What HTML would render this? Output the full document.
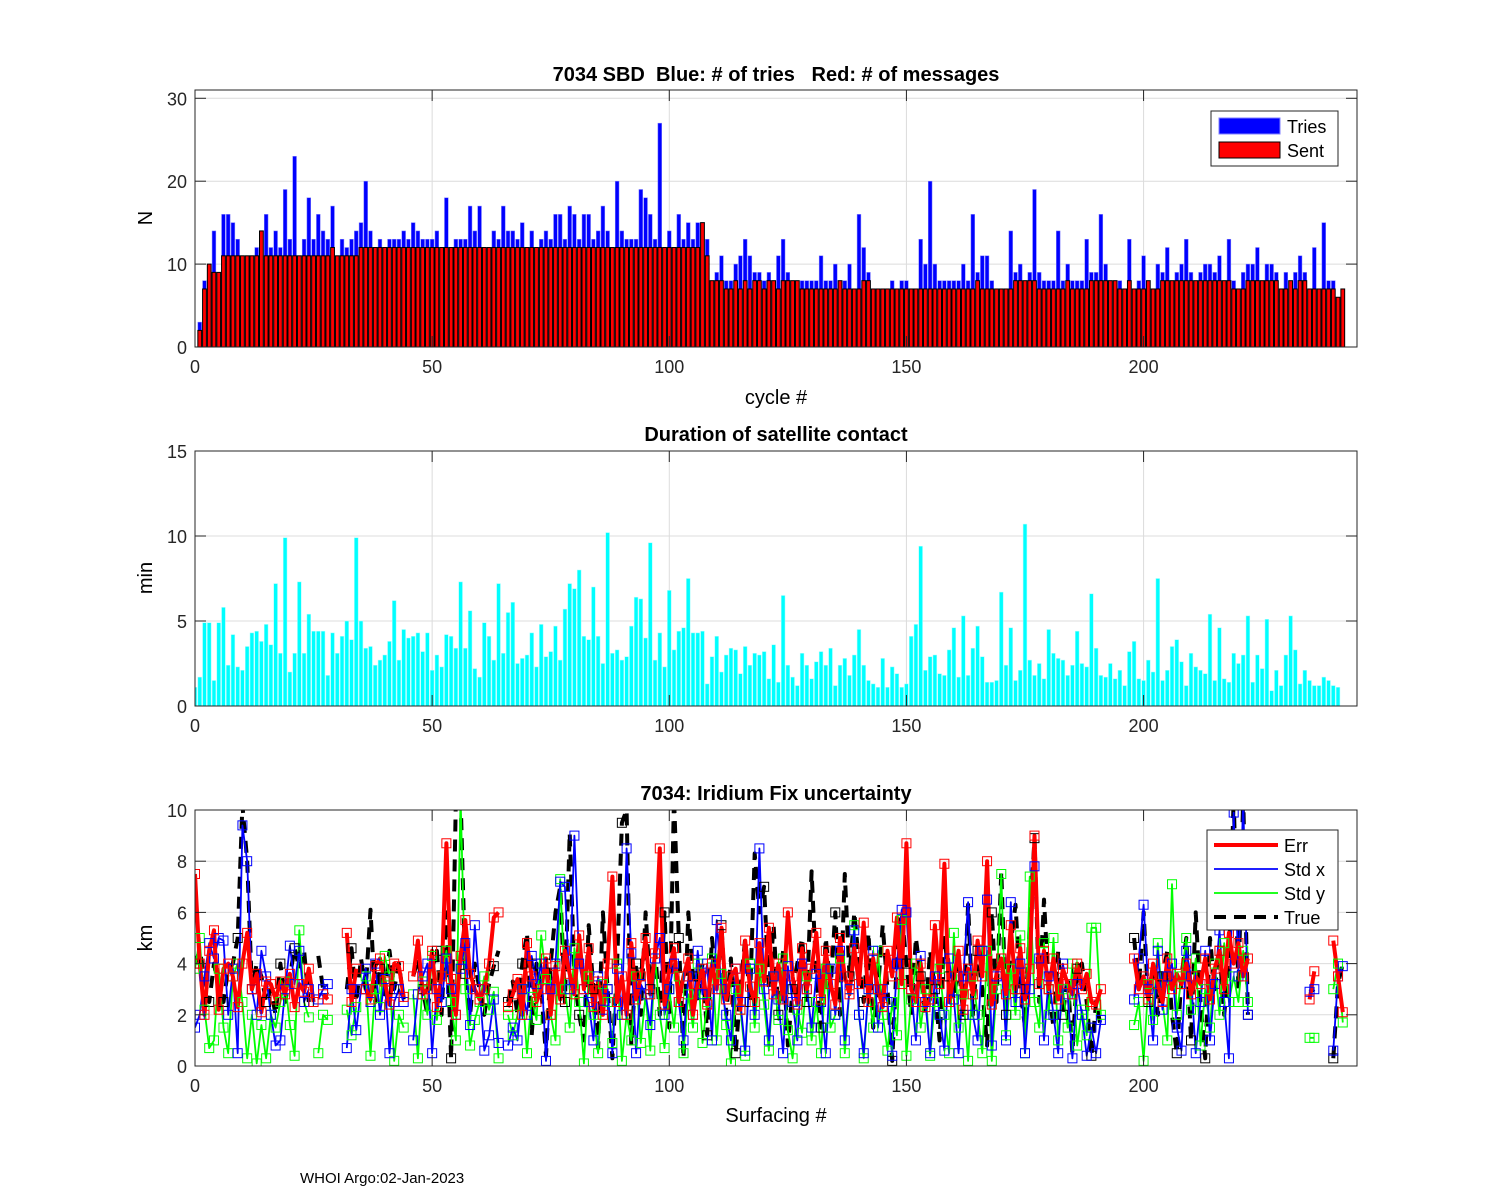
<!DOCTYPE html>
<html><head><meta charset="utf-8"><title>7034 SBD</title>
<style>
html,body{margin:0;padding:0;background:#fff;}
svg{display:block;font-family:"Liberation Sans",Arial,sans-serif;}
text{white-space:pre;}
</style></head>
<body>
<svg id="fig" width="1500" height="1200" viewBox="0 0 1500 1200" xmlns="http://www.w3.org/2000/svg" xml:space="preserve">
<rect x="0" y="0" width="1500" height="1200" fill="#fff"/>
<g id="p1"></g>
<g id="p2"></g>
<g id="p3"></g>
<text x="776" y="81" text-anchor="middle" font-size="20" font-weight="bold">7034 SBD  Blue: # of tries   Red: # of messages</text>
<text x="776" y="441" text-anchor="middle" font-size="20" font-weight="bold">Duration of satellite contact</text>
<text x="776" y="800" text-anchor="middle" font-size="20" font-weight="bold">7034: Iridium Fix uncertainty</text>
<text x="776" y="404" text-anchor="middle" font-size="20">cycle #</text>
<text x="776" y="1122" text-anchor="middle" font-size="20">Surfacing #</text>
<text transform="translate(152,218) rotate(-90)" text-anchor="middle" font-size="20">N</text>
<text transform="translate(152,578) rotate(-90)" text-anchor="middle" font-size="20">min</text>
<text transform="translate(152,938) rotate(-90)" text-anchor="middle" font-size="20">km</text>
<text x="300" y="1183" font-size="15">WHOI Argo:02-Jan-2023</text>
</svg>
<script>
// ---------- Panel 1 data (cycles 1..242) ----------
const tries = [3,8,10,14,9,16,16,15,13,11,
11,11,12,14,16,12,14,12,19,13,
23,11,13,18,13,16,14,13,17,11,
13,12,13,14,15,20,14,12,13,12,
13,13,13,14,13,15,14,13,13,13,
14,12,18,12,13,13,13,17,14,17,
12,12,14,13,17,14,14,13,15,12,
14,12,13,14,13,16,16,13,17,16,
13,16,16,13,14,17,14,12,20,14,
13,13,13,19,18,16,13,27,12,14,
12,16,13,15,13,15,15,13,8,9,
11,8,8,10,11,13,11,9,9,8,
9,8,11,13,9,8,8,8,8,8,
8,11,8,8,10,7,8,10,7,16,
12,9,7,7,7,7,8,7,8,8,
7,7,13,10,20,10,8,8,8,8,
8,10,8,16,9,11,11,8,7,7,
7,14,9,10,8,9,19,9,8,8,
8,14,8,10,8,8,8,13,9,9,
16,10,8,8,8,7,13,7,8,11,
8,7,10,9,12,8,9,10,13,9,
7,9,10,10,9,11,8,13,8,7,
9,10,10,12,8,10,10,9,7,9,
7,9,11,9,7,12,7,15,8,8,6,7];
const sent = [2,7,10,9,9,11,11,11,11,11,
11,11,11,14,11,11,11,11,11,11,
11,11,11,11,11,11,11,11,12,11,
11,11,11,11,12,12,12,12,12,12,
12,12,12,12,12,12,12,12,12,12,
12,12,12,12,12,12,12,12,12,12,
12,12,12,12,12,12,12,12,12,12,
12,12,12,12,12,12,12,12,12,12,
12,12,12,12,12,12,12,12,12,12,
12,12,12,12,12,12,12,12,12,12,
12,12,12,12,12,12,15,11,8,8,
8,7,7,8,7,8,7,8,8,7,
8,8,7,8,8,8,8,7,7,7,
7,7,7,7,7,8,7,7,7,7,
8,8,7,7,7,7,7,7,7,7,
7,7,7,7,7,7,7,7,7,7,
7,7,7,7,8,7,7,7,7,7,
7,7,8,8,8,8,8,7,7,7,
7,7,7,8,7,7,7,7,8,8,
8,8,8,8,7,7,8,7,7,7,
8,7,7,8,8,8,8,8,8,8,
8,8,8,8,8,8,8,8,7,7,
7,8,8,8,8,8,8,8,7,7,
8,7,8,8,7,7,7,7,7,7,6,7];
const p1YTicks = [0,10,20,30];
const xTicks = [0,50,100,150,200];

// ---------- Panel 2 data (cycles 0..241) ----------
const duration = [1.1,1.7,4.9,4.9,1.5,4.9,5.8,2.4,4.2,2.3,
2.1,3.5,4.3,4.4,3.8,4.8,3.6,7.2,3.1,9.9,
2.0,3.1,7.3,3.1,5.4,4.4,4.4,4.4,1.8,4.3,
3.1,4.1,5.0,3.9,9.9,5.0,3.4,3.5,2.4,2.7,
3.0,3.8,6.2,2.7,4.5,4.0,4.1,4.3,3.2,4.3,
2.1,3.0,2.3,4.2,4.1,3.4,7.3,3.4,5.6,2.2,
1.7,4.9,4.1,2.7,7.2,3.1,5.5,6.1,2.5,2.8,
3.0,4.3,2.3,4.8,2.9,3.2,4.7,2.7,5.7,7.2,
6.9,8.0,4.1,3.9,7.0,4.1,2.5,10.2,3.1,3.3,
2.7,2.9,4.7,6.4,6.3,4.0,9.6,2.7,4.3,2.3,
6.8,3.3,4.4,4.6,7.5,4.3,4.3,4.4,1.3,2.9,
4.1,2.0,3.0,3.4,3.3,1.9,3.5,2.4,3.1,3.0,
3.2,1.6,3.6,1.4,6.5,2.4,1.7,1.2,3.1,2.4,
1.6,2.6,3.2,2.4,3.4,1.2,2.4,2.8,1.8,3.0,
4.5,2.4,1.5,1.3,1.1,2.8,1.1,2.3,1.9,1.1,
1.3,4.1,4.8,9.4,2.1,2.9,3.0,1.9,1.8,3.3,
4.6,1.7,5.3,1.8,3.4,4.7,2.9,1.4,1.4,1.5,
6.7,2.4,4.6,1.5,2.1,10.7,2.7,1.8,2.5,1.6,
4.5,3.1,2.8,2.7,1.8,2.4,4.4,2.5,2.3,6.6,
3.4,1.8,1.7,2.5,1.6,2.1,1.2,3.2,3.8,1.6,
1.5,2.7,2.0,7.5,1.5,2.1,3.5,3.9,2.6,1.2,
3.1,2.3,2.1,1.9,5.4,1.5,4.6,1.6,1.4,3.1,
2.5,3.0,5.3,1.4,3.0,2.2,5.1,0.9,2.1,1.2,
3.0,5.3,3.3,1.3,2.1,1.5,1.2,1.2,1.7,1.5,
1.2,1.1];
const p2YTicks = [0,5,10,15];

// ---------- Panel 3 data (surfacing 0..242) ----------
const N = null;
const errKm = [7.5,4.0,2.0,4.5,5.3,2.2,3.8,4.0,3.5,2.3,
4.0,5.2,3.0,3.6,2.1,3.3,3.2,2.6,3.3,2.8,
3.6,2.3,3.2,2.9,3.8,2.5,N,2.8,2.6,N,
N,N,5.2,2.5,3.8,N,3.0,2.6,3.9,4.2,
3.3,2.4,4.0,3.9,2.7,N,3.5,4.9,2.8,3.0,
4.5,2.3,3.5,8.7,3.4,2.0,4.3,5.7,3.6,3.0,
2.6,3.0,4.0,5.8,6.0,N,2.3,2.8,3.4,2.0,
4.8,3.5,2.5,3.0,4.2,2.0,3.9,2.6,4.5,3.6,
2.8,5.1,3.0,4.6,2.3,3.3,2.0,4.0,7.4,2.5,
3.5,2.0,4.8,2.6,3.5,5.0,2.8,4.4,8.5,2.4,
3.8,4.6,2.5,3.5,4.2,2.0,3.2,3.8,2.4,4.0,
3.0,5.4,2.6,3.5,3.8,2.2,4.9,3.1,2.5,4.8,
3.3,5.4,2.8,4.0,2.6,6.0,3.5,2.4,4.6,3.0,
3.8,5.2,2.6,4.5,3.2,2.4,5.0,3.5,2.8,4.6,
3.2,5.6,2.5,4.2,3.0,2.3,4.5,3.5,5.8,3.2,
8.7,3.0,2.5,4.0,2.3,2.6,5.5,3.2,7.9,2.5,
3.5,4.5,2.2,3.8,2.8,4.9,3.5,8.0,2.4,3.6,
4.2,2.8,5.5,3.0,4.6,2.6,3.8,9.0,3.2,4.5,
3.0,4.2,2.6,3.8,3.2,2.8,4.0,3.0,3.6,2.5,
2.4,3.0,N,N,N,N,N,N,4.2,3.0,
3.5,2.6,4.0,3.2,2.5,4.2,3.0,3.6,3.2,4.0,
2.8,3.5,3.2,4.2,2.6,3.8,4.5,3.0,5.2,4.0,
4.8,3.5,4.2,N,N,N,N,N,N,N,
N,N,N,N,N,2.6,3.7,N,N,N,
4.9,3.5,2.1];
const stdX = [1.5,2.0,3.5,4.8,4.2,5.0,4.9,2.0,3.8,0.5,
9.4,8.0,3.0,2.0,4.5,3.5,2.0,0.8,1.0,3.0,
4.7,3.2,4.5,2.5,3.0,N,2.6,3.0,3.2,N,
N,N,0.7,3.0,1.4,3.0,3.8,2.5,4.0,2.0,
3.4,0.5,2.5,3.0,2.5,N,1.0,2.8,3.5,4.0,
0.5,3.0,2.5,4.2,3.0,2.0,3.8,4.8,1.6,5.5,
3.0,0.6,1.2,2.6,0.9,N,0.8,1.5,1.0,3.0,
2.0,4.3,3.2,4.0,0.2,3.0,4.0,7.2,7.0,3.0,
9.0,4.0,3.0,2.5,1.0,3.5,2.2,3.0,0.5,3.8,
2.0,8.5,4.4,0.5,3.2,2.8,1.6,4.2,5.0,2.0,
3.0,4.0,2.5,1.0,3.5,2.0,4.5,2.8,4.0,1.0,
5.7,3.0,2.0,1.0,3.8,2.5,0.6,3.8,2.0,8.5,
3.0,1.0,3.5,2.6,0.5,3.9,2.5,1.0,4.0,3.0,
1.5,3.6,2.5,0.5,3.8,2.0,4.5,1.0,3.0,5.3,
2.0,0.5,3.0,4.5,1.5,3.0,2.5,0.4,4.0,6.1,
6.0,3.0,1.0,4.3,2.5,0.5,3.5,2.0,0.6,4.2,
2.6,0.5,3.5,6.4,2.0,1.0,4.5,6.5,0.8,3.5,
4.2,1.0,6.4,2.5,4.0,0.5,3.0,7.8,4.2,1.0,
3.5,2.0,0.5,4.0,2.8,0.3,3.2,2.0,0.4,1.5,
0.5,1.8,N,N,N,N,N,N,2.6,4.2,
6.3,3.0,1.0,4.5,2.2,3.5,4.0,1.5,0.6,4.5,
3.5,0.5,2.5,4.5,1.0,3.2,5.3,2.5,0.3,9.9,
3.5,10.5,2.0,N,N,N,N,N,N,N,
N,N,N,N,N,2.9,3.0,N,N,N,
0.6,3.5,3.9];
const stdY = [3.8,5.0,2.2,0.7,1.0,3.8,1.5,0.5,3.5,4.0,
2.5,0.3,2.0,0.1,1.6,0.3,2.0,1.5,2.5,3.3,
1.6,0.4,5.3,2.5,1.9,N,0.5,2.0,1.8,N,
N,N,2.2,1.2,2.3,N,3.5,0.4,3.0,2.3,
4.3,3.5,0.2,2.0,1.5,N,2.8,0.3,3.3,2.0,
4.3,1.8,3.5,4.5,2.5,1.0,10.5,3.0,0.8,1.8,
2.5,3.5,2.2,2.9,0.3,N,2.0,1.2,2.0,3.0,
0.5,2.7,1.8,5.1,3.4,2.0,1.0,7.3,3.0,1.5,
4.6,2.5,0.1,3.5,2.0,0.5,3.2,2.5,0.9,4.0,
0.2,2.0,1.0,3.5,0.9,2.8,0.6,4.2,2.0,0.7,
3.0,1.5,3.5,0.5,2.8,1.5,4.0,0.9,2.5,4.2,
1.0,3.6,1.6,0.1,3.0,2.2,0.4,4.0,1.5,3.8,
2.4,0.6,3.5,1.8,4.2,1.4,0.3,2.2,1.3,3.5,
1.0,2.5,0.5,3.8,1.5,2.0,4.2,0.5,3.0,5.5,
2.0,0.3,3.0,1.5,4.5,2.0,0.6,2.5,1.2,5.7,
0.4,2.6,4.0,1.5,3.0,0.4,2.5,3.8,2.0,0.5,
5.2,1.5,2.8,0.2,3.5,2.0,0.5,4.5,0.2,3.0,
7.5,1.2,3.8,2.0,5.1,0.5,7.4,2.5,1.5,4.8,
2.0,5.0,1.0,3.0,1.5,4.0,0.8,2.2,1.2,5.4,
5.4,2.0,N,N,N,N,N,N,1.6,2.5,
0.2,3.2,1.8,4.8,2.5,1.0,7.1,2.0,3.5,5.0,
2.2,4.2,0.8,3.0,1.5,4.0,2.0,4.8,2.5,3.5,
2.5,4.5,2.5,N,N,N,N,N,N,N,
N,N,N,N,N,1.1,1.1,N,N,N,
3.0,4.0,1.7];
const trueKm = [4.0,4.5,3.5,2.5,4.0,3.0,2.5,3.8,4.0,5.0,
10.2,8.0,3.0,4.0,3.5,2.5,3.0,2.0,4.0,2.5,
3.5,4.6,3.8,4.5,2.5,N,4.3,3.0,2.8,N,
N,N,3.0,4.6,2.5,4.2,3.0,6.1,2.5,3.8,
2.8,4.5,3.0,4.0,2.6,N,3.5,4.2,3.0,2.0,
3.8,4.5,2.0,6.0,0.3,10.5,10.5,3.6,2.0,4.0,
3.0,2.0,3.2,3.9,4.5,N,2.5,3.3,2.0,4.0,
5.2,1.2,4.0,3.0,0.4,4.0,6.0,7.0,2.5,9.1,
3.5,2.0,1.0,5.5,3.0,0.7,6.0,3.0,0.3,4.0,
9.5,10.0,0.8,4.0,2.0,6.0,3.0,4.5,2.0,6.0,
1.5,10.5,5.0,0.3,6.0,3.5,2.5,4.0,1.2,5.0,
3.0,5.5,2.0,4.2,0.5,3.0,5.0,2.5,8.3,6.0,
7.0,3.0,5.5,2.0,4.5,0.8,3.0,4.0,5.0,2.5,
7.6,3.5,1.5,5.0,3.0,6.0,2.0,7.5,3.5,6.0,
4.0,2.5,5.2,1.5,3.0,5.5,3.0,0.2,4.2,6.0,
4.0,2.0,5.0,3.5,2.0,4.5,3.0,1.0,5.0,3.5,
2.6,4.0,2.0,6.3,2.0,4.5,3.0,0.8,6.0,2.5,
7.6,2.0,4.8,6.3,3.0,1.5,5.5,8.9,2.5,6.5,
3.0,1.5,4.5,2.0,3.5,0.5,3.8,4.0,2.5,0.4,
2.5,1.5,N,N,N,N,N,N,5.0,3.0,
6.0,2.5,4.0,2.0,3.5,4.5,2.0,0.5,3.5,5.0,
1.0,6.0,2.5,0.3,5.0,3.0,4.5,2.0,4.0,10.5,
3.0,10.5,2.0,N,N,N,N,N,N,N,
N,N,N,N,N,2.9,3.0,N,N,N,
0.3,3.2,4.0];
const p3YTicks = [0,2,4,6,8,10];

// ---------- helpers ----------
const NS = "http://www.w3.org/2000/svg";
function mk(tag, attrs, parent){ const e=document.createElementNS(NS,tag); for(const k in attrs) e.setAttribute(k,attrs[k]); parent.appendChild(e); return e; }
const L=195, R=1357, XMAX=245;
function xs(v){ return L + (R-L)*v/XMAX; }
function makeY(top,bot,ymax){ return v => bot - (bot-top)*v/ymax; }

function drawAxes(g, top, bot, ymax, yTicks, ys, name){
  for(const t of xTicks){
    const l=mk('line',{x1:xs(t),x2:xs(t),y1:top,y2:bot,stroke:'#dcdcdc','stroke-width':1},g);
    
    
  }
  for(const t of yTicks){
    const l=mk('line',{x1:L,x2:R,y1:ys(t),y2:ys(t),stroke:'#dcdcdc','stroke-width':1},g);
    
    
  }
}
function drawFrame(g, top, bot, ymax, yTicks, ys, name){
  const b=mk('rect',{x:L,y:top,width:R-L,height:bot-top,fill:'none',stroke:'#262626','stroke-width':1},g);
  
  
  for(const t of xTicks){
    const x=xs(t);
    mk('line',{x1:x,x2:x,y1:bot,y2:bot-11,stroke:'#262626'},g);
    mk('line',{x1:x,x2:x,y1:top,y2:top+11,stroke:'#262626'},g);
    const tx=mk('text',{x:x,y:bot+26,'text-anchor':'middle','font-size':18,fill:'#262626'},g);
    tx.textContent=t;
    
    
  }
  for(const t of yTicks){
    const y=ys(t);
    mk('line',{x1:L,x2:L+11,y1:y,y2:y,stroke:'#262626'},g);
    mk('line',{x1:R,x2:R-11,y1:y,y2:y,stroke:'#262626'},g);
    const tx=mk('text',{x:L-8,y:y+7,'text-anchor':'end','font-size':18,fill:'#262626'},g);
    tx.textContent=t;
    
    
  }
}

// ---------- Panel 1 ----------
(function(){
  const g=document.getElementById('p1');
  const top=90, bot=347, ymax=31, ys=makeY(top,bot,ymax);
  drawAxes(g,top,bot,ymax,p1YTicks,ys,'tries');
  const w=(R-L)/XMAX*0.8;
  tries.forEach((v,i)=>{
    const c=i+1;
    const r=mk('rect',{x:xs(c)-w/2,y:ys(v),width:w,height:bot-ys(v),fill:'#0000ff',stroke:'#8080ff','stroke-width':0.5},g);
    
    
  });
  sent.forEach((v,i)=>{
    const c=i+1;
    const r=mk('rect',{x:xs(c)-w/2,y:ys(v),width:w,height:bot-ys(v),fill:'#ff0000',stroke:'#000','stroke-width':1},g);
    
    
  });
  drawFrame(g,top,bot,ymax,p1YTicks,ys,'tries');
  const lg=mk('g',{},g);
  
  
  mk('rect',{x:1211,y:111,width:127,height:55,fill:'#fff',stroke:'#262626'},lg);
  const e1=mk('rect',{x:1219,y:118,width:61,height:16,fill:'#0000ff',stroke:'#8080ff'},lg);
  
  
  const e2=mk('rect',{x:1219,y:142,width:61,height:16,fill:'#ff0000',stroke:'#000'},lg);
  
  
  const t1=mk('text',{x:1287,y:133,'font-size':18},lg); t1.textContent='Tries';
  
  
  const t2=mk('text',{x:1287,y:157,'font-size':18},lg); t2.textContent='Sent';
  
  
})();

// ---------- Panel 2 ----------
(function(){
  const g=document.getElementById('p2');
  const top=451, bot=706, ymax=15, ys=makeY(top,bot,ymax);
  drawAxes(g,top,bot,ymax,p2YTicks,ys,'duration');
  const w=(R-L)/XMAX*0.8;
  duration.forEach((v,i)=>{
    const r=mk('rect',{x:Math.max(L,xs(i)-w/2),y:ys(v),width:(i===0?w/2:w),height:bot-ys(v),fill:'#00ffff',stroke:'#aaffff','stroke-width':0.5},g);
    
    
  });
  drawFrame(g,top,bot,ymax,p2YTicks,ys,'duration');
})();

// ---------- Panel 3 ----------
(function(){
  const g=document.getElementById('p3');
  const top=810, bot=1066, ymax=10, ys=makeY(top,bot,ymax);
  drawAxes(g,top,bot,ymax,p3YTicks,ys,'fix');
  const defs=mk('defs',{},g);
  const cp=mk('clipPath',{id:'clip3'},defs);
  mk('rect',{x:L,y:top,width:R-L,height:bot-top},cp);
  const plot=mk('g',{'clip-path':'url(#clip3)'},g);
  function series(arr,color,width,dash,name){
    let d='', pen=false;
    arr.forEach((v,i)=>{
      if(v===null){pen=false;return;}
      d+=(pen?'L':'M')+xs(i).toFixed(1)+' '+ys(v).toFixed(1)+' ';
      pen=true;
    });
    const attrs={d:d,fill:'none',stroke:color,'stroke-width':width,'stroke-linejoin':'round'};
    if(dash) attrs['stroke-dasharray']=dash;
    const p=mk('path',attrs,plot);
    
    
  }
  function markers(arr,color,name,step){
    arr.forEach((v,i)=>{
      if(v===null) return;
      if(i%step!==0) return;
      const m=mk('rect',{x:xs(i)-4.5,y:ys(v)-4.5,width:9,height:9,fill:'none',stroke:color,'stroke-width':1},plot);
      
      
    });
  }
  series(trueKm,'#000',4,'12,8','true');
  series(stdY,'#00ff00',1.8,null,'std-y');
  series(stdX,'#0000ff',1.8,null,'std-x');
  series(errKm,'#ff0000',4,null,'err');
  markers(trueKm,'#000','true',3);
  markers(stdY,'#00ff00','std-y',1);
  markers(stdX,'#0000ff','std-x',1);
  markers(errKm,'#ff0000','err',1);
  drawFrame(g,top,bot,ymax,p3YTicks,ys,'fix');
  const lg=mk('g',{},g);
  
  
  mk('rect',{x:1207,y:830,width:131,height:100,fill:'#fff',stroke:'#262626'},lg);
  const ents=[['Err','#ff0000',4,null],['Std x','#0000ff',1.8,null],['Std y','#00ff00',1.8,null],['True','#000',4,'12,8']];
  ents.forEach((e,k)=>{
    const y=845+k*24;
    const ln=mk('line',{x1:1214,x2:1278,y1:y,y2:y,stroke:e[1],'stroke-width':e[2]},lg);
    if(e[3]) ln.setAttribute('stroke-dasharray',e[3]);
    
    
    const t=mk('text',{x:1284,y:y+7,'font-size':18},lg);
    t.textContent=e[0];
    
    
  });
})();
</script>
</body></html>
